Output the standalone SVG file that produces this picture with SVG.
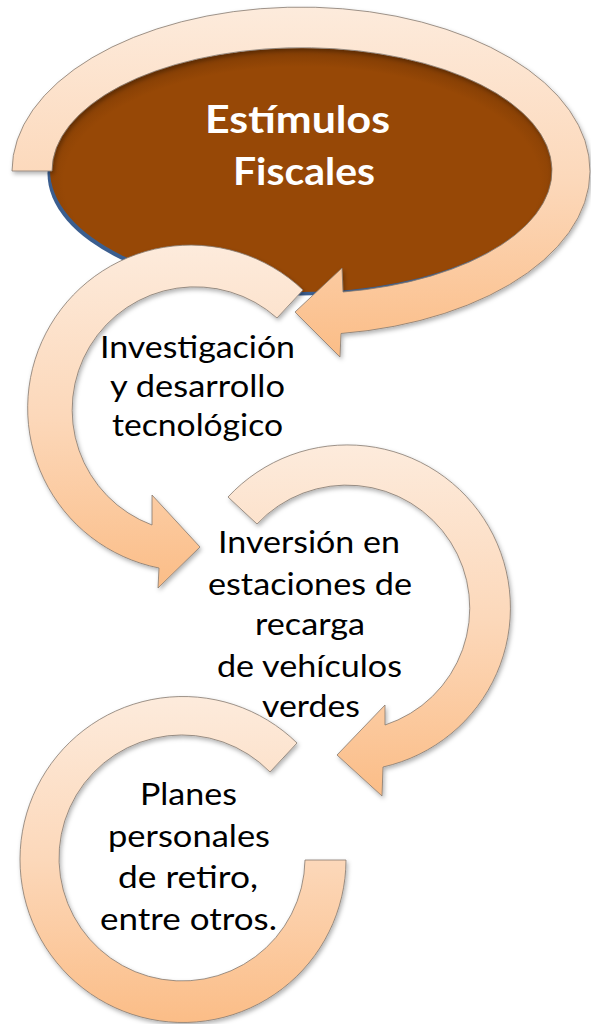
<svg xmlns="http://www.w3.org/2000/svg" width="591" height="1024" viewBox="0 0 591 1024">
  <style>
    .ring { fill: url(#peach); stroke: #857a70; stroke-width: 0.8; filter: url(#shadow); }
    .title { font-family: "Lato", "Open Sans", "Liberation Sans", sans-serif; font-weight: bold; font-size: 38px; fill: #ffffff; }
    .label { font-family: "Lato", "Open Sans", "Liberation Sans", sans-serif; font-size: 31px; fill: #000000; }
  </style>
  <defs>
    <linearGradient id="peach" x1="0" y1="0" x2="0" y2="1">
      <stop offset="0" stop-color="#FDEBDC"/>
      <stop offset="0.5" stop-color="#FCD8BA"/>
      <stop offset="1" stop-color="#FBBD87"/>
    </linearGradient>
    <radialGradient id="brown" cx="0.5" cy="0.55" r="0.55">
      <stop offset="0.86" stop-color="#974806"/>
      <stop offset="1" stop-color="#7e3b04"/>
    </radialGradient>
    <filter id="shadow" x="-10%" y="-10%" width="120%" height="120%">
      <feDropShadow dx="1.5" dy="2.5" stdDeviation="2" flood-color="#000000" flood-opacity="0.3"/>
    </filter>
  </defs>

  <g id="node-estimulos">
    <ellipse cx="300.5" cy="173.5" rx="253" ry="122" fill="#3B5E8F"/>
    <ellipse cx="302" cy="170" rx="252" ry="122" fill="url(#brown)"/>
    <text class="title" x="205" y="133" textLength="185" lengthAdjust="spacingAndGlyphs">Estímulos</text>
    <text class="title" x="233" y="185" textLength="142" lengthAdjust="spacingAndGlyphs">Fiscales</text>
  </g>

  <g id="connectors">
    <path id="arrow-1" class="ring" d="M 12,171 A 289,164 0 1 1 341,333.5 L 340,357 L 295,312 L 342,268 L 343,292 A 250,123 0 1 0 52,171 Z"/>
    <path id="arrow-2" class="ring" d="M 303,290 A 163,163 0 1 0 159,568 L 158,588 L 200,547 L 152,495 L 152,525 A 123,123 0 1 1 277,318 Z"/>
    <path id="arrow-3" class="ring" d="M 228,497 A 163,163 0 1 1 383,767 L 382,796 L 337,755 L 385,705 L 385,725 A 123,123 0 1 0 257,524 Z"/>
    <path id="arrow-4" class="ring" d="M 297,743 A 163,163 0 1 0 346,860 L 305,860 A 123,123 0 1 1 270,772 Z"/>
  </g>

  <g id="node-investigacion">
    <text class="label" x="100" y="358" textLength="195" lengthAdjust="spacingAndGlyphs">Investigación</text>
    <text class="label" x="110" y="397" textLength="175" lengthAdjust="spacingAndGlyphs">y desarrollo</text>
    <text class="label" x="112" y="436" textLength="171" lengthAdjust="spacingAndGlyphs">tecnológico</text>
  </g>

  <g id="node-inversion">
    <text class="label" x="218" y="553" textLength="182" lengthAdjust="spacingAndGlyphs">Inversión en</text>
    <text class="label" x="208" y="595" textLength="204" lengthAdjust="spacingAndGlyphs">estaciones de</text>
    <text class="label" x="255" y="635" textLength="110" lengthAdjust="spacingAndGlyphs">recarga</text>
    <text class="label" x="217" y="677" textLength="185" lengthAdjust="spacingAndGlyphs">de vehículos</text>
    <text class="label" x="262" y="717" textLength="98" lengthAdjust="spacingAndGlyphs">verdes</text>
  </g>

  <g id="node-planes">
    <text class="label" x="140" y="805" textLength="97" lengthAdjust="spacingAndGlyphs">Planes</text>
    <text class="label" x="108" y="847" textLength="162" lengthAdjust="spacingAndGlyphs">personales</text>
    <text class="label" x="118" y="888" textLength="140" lengthAdjust="spacingAndGlyphs">de retiro,</text>
    <text class="label" x="100" y="930" textLength="177" lengthAdjust="spacingAndGlyphs">entre otros.</text>
  </g>
</svg>
